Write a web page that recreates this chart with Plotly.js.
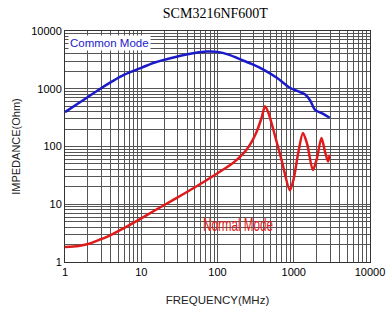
<!DOCTYPE html>
<html><head><meta charset="utf-8">
<script src="https://cdn.plot.ly/plotly-3.0.1.min.js"></script>
<style>body{margin:0;background:#fff}#c{width:388px;height:313px}</style>
</head><body><div id="c"></div>
<script>
const commonFreq = [1, 1.5, 2, 2.9, 4, 6, 10, 15, 21.5, 35, 50, 72, 100, 140, 196, 280, 395, 600, 890, 1150, 1400, 1650, 1890, 2400, 2960];
const commonZ    = [394, 560, 720, 1000, 1300, 1750, 2300, 2850, 3250, 3800, 4150, 4400, 4350, 3900, 3250, 2700, 2170, 1550, 1040, 900, 800, 620, 437, 370, 314];
const normalFreq = [1, 1.5, 2.13, 3, 3.9, 6, 10, 15, 26, 50, 100, 160, 240, 320, 380, 420, 460, 540, 700, 890, 1000, 1150, 1320, 1500, 1780, 2000, 2310, 2550, 2820, 2960];
const normalZ    = [1.82, 1.9, 2.09, 2.5, 2.9, 3.9, 5.7, 7.8, 11.8, 19.5, 34.5, 52, 88, 170, 320, 500, 400, 195, 55, 17.5, 28, 80, 171, 110, 39, 60, 140, 85, 55, 72];
const xTicks = [1, 10, 100, 1000, 10000];
const yTicks = [1, 10, 100, 1000, 10000];

const traces = [
  {x: commonFreq, y: commonZ, mode: 'lines', line: {color: '#1a1ac8', width: 2.5, shape: 'spline', smoothing: 1}, hoverinfo: 'skip'},
  {x: normalFreq, y: normalZ, mode: 'lines', line: {color: '#e01a1a', width: 2.5, shape: 'spline', smoothing: 0.8}, hoverinfo: 'skip'}
];
const gridCol = '#555';
const layout = {
  width: 388, height: 313,
  margin: {l: 65, r: 18, t: 31, b: 51},
  paper_bgcolor: '#fff', plot_bgcolor: '#fff',
  showlegend: false,
  title: {text: 'SCM3216NF600T', font: {family: 'Liberation Serif', size: 14, color: '#000'}, x: 0.555, xanchor: 'center', y: 0.975, yanchor: 'top'},
  xaxis: {
    type: 'log', range: [0, 4], tickvals: xTicks, ticktext: xTicks.map(String),
    showgrid: true, gridcolor: gridCol, gridwidth: 1,
    minor: {dtick: 'D1', showgrid: true, gridcolor: gridCol, gridwidth: 1},
    showline: true, linecolor: '#333', mirror: true, linewidth: 1,
    ticks: '', tickfont: {family: 'Liberation Sans', size: 11, color: '#000'},
    title: {text: 'FREQUENCY(MHz)', font: {family: 'Liberation Sans', size: 11.5, color: '#222'}, standoff: 18},
    zeroline: false
  },
  yaxis: {
    type: 'log', range: [0, 4], tickvals: yTicks, ticktext: yTicks.map(String),
    showgrid: true, gridcolor: gridCol, gridwidth: 1,
    minor: {dtick: 'D1', showgrid: true, gridcolor: gridCol, gridwidth: 1},
    showline: true, linecolor: '#333', mirror: true, linewidth: 1,
    ticks: '', tickfont: {family: 'Liberation Sans', size: 11, color: '#000'},
    title: {text: 'IMPEDANCE(Ohm)', font: {family: 'Liberation Sans', size: 11, color: '#222'}, standoff: 8},
    zeroline: false
  },
  annotations: [
    {xref: 'paper', yref: 'paper', x: 0.01, y: 0.95, xanchor: 'left', yanchor: 'middle', text: 'Common Mode', showarrow: false, font: {family: 'Liberation Sans', size: 11.5, color: '#1a1ac8'}, bgcolor: '#fff'},
    {xref: 'paper', yref: 'paper', x: 0.567, y: 0.162, xanchor: 'center', yanchor: 'middle', text: 'Normal Mode', showarrow: false, font: {family: 'Liberation Sans', size: 18, color: '#e01a1a'}}
  ]
};
Plotly.newPlot('c', traces, layout, {staticPlot: true, displayModeBar: false}).then(function (gd) {
  gd.querySelectorAll('.annotation-text').forEach(function (t) {
    if (t.textContent === 'Normal Mode') {
      const bb = t.getBBox();
      const cx = bb.x + bb.width / 2;
      const s = 70 / bb.width;
      const prev = t.getAttribute('transform') || '';
      t.setAttribute('transform', prev + ' translate(' + cx + ',0) scale(' + s + ',1) translate(' + (-cx) + ',0)');
    }
  });
});
</script></body></html>
